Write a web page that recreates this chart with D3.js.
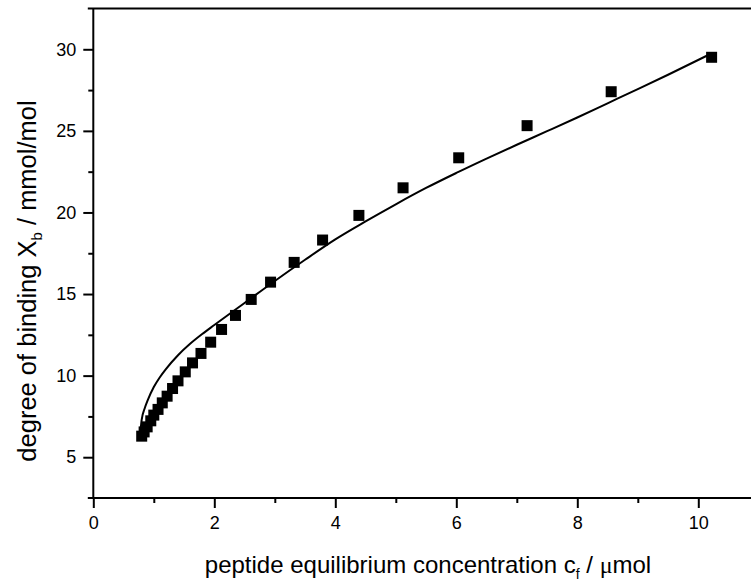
<!DOCTYPE html>
<html>
<head>
<meta charset="utf-8">
<script src="https://cdn.jsdelivr.net/npm/d3@7/dist/d3.min.js"></script>
<style>
  html, body { margin: 0; padding: 0; background: #fff; }
  svg { display: block; font-family: "Liberation Sans", Arial, sans-serif; }
</style>
</head>
<body>
<svg id="chart" width="751" height="585"></svg>
<script>
// Measured binding data: free peptide concentration (µmol) vs degree of binding (mmol/mol)
const concentration = [0.80, 0.84, 0.89, 0.95, 1.00, 1.07, 1.14, 1.22, 1.31, 1.40, 1.52, 1.64, 1.78,
                       1.94, 2.12, 2.35, 2.61, 2.93, 3.32, 3.79, 4.39, 5.12, 6.04, 7.17, 8.56, 10.22];
const binding = [6.29, 6.55, 6.86, 7.23, 7.58, 7.93, 8.33, 8.74, 9.21, 9.68, 10.23, 10.78, 11.36,
                 12.05, 12.83, 13.69, 14.67, 15.73, 16.94, 18.31, 19.82, 21.51, 23.35, 25.32, 27.40, 29.51];

// Model curve through the data
const fitX = [0.78, 0.80, 0.85, 0.90, 1.00, 1.10, 1.20, 1.40, 1.60, 1.80, 2.00, 2.50, 3.00, 3.50,
              4.00, 4.50, 5.00, 5.50, 6.00, 6.50, 7.00, 7.50, 8.00, 8.50, 9.00, 9.50, 10.22];
const fitY = [6.60, 7.30, 8.00, 8.50, 9.30, 9.90, 10.40, 11.25, 11.95, 12.55, 13.10, 14.45, 15.80, 17.10,
              18.35, 19.45, 20.50, 21.50, 22.42, 23.30, 24.15, 24.98, 25.82, 26.69, 27.56, 28.44, 29.75];

const xMajor = [0, 2, 4, 6, 8, 10];
const xMinor = [1, 3, 5, 7, 9];
const yMajor = [5, 10, 15, 20, 25, 30];
const yMinor = [7.5, 12.5, 17.5, 22.5, 27.5];

const svg = d3.select("#chart");
const W = 751;

const x = d3.scaleLinear().domain([0, 11]).range([93.3, 93.3 + 11 * 60.5]);
const y = d3.scaleLinear().domain([2.5, 32.5]).range([498, 8.5]);

const ink = "#000";
const frameLeft = x(0) - 5.5;

// Frame lines (top and bottom), extending a little left of the y axis
svg.append("line").attr("x1", frameLeft).attr("x2", W + 10)
  .attr("y1", y(32.5)).attr("y2", y(32.5))
  .attr("stroke", ink).attr("stroke-width", 2);

// X axis
const xAxis = svg.append("g").attr("transform", `translate(0,${y(2.5)})`);
xAxis.call(d3.axisBottom(x).tickValues(xMajor).tickSize(10).tickPadding(8).tickFormat(d3.format("d")))
  .call(g => g.select(".domain").remove());
xAxis.append("g").call(d3.axisBottom(x).tickValues(xMinor).tickSize(5).tickFormat(""))
  .call(g => g.select(".domain").remove());
xAxis.append("line").attr("x1", frameLeft).attr("x2", W + 10).attr("stroke", ink).attr("stroke-width", 2);

// Y axis
const yAxis = svg.append("g").attr("transform", `translate(${x(0)},0)`);
yAxis.call(d3.axisLeft(y).tickValues(yMajor).tickSize(10).tickPadding(7).tickFormat(d3.format("d")))
  .call(g => g.select(".domain").remove());
yAxis.append("g").call(d3.axisLeft(y).tickValues(yMinor).tickSize(5).tickFormat(""))
  .call(g => g.select(".domain").remove());
yAxis.append("line").attr("y1", y(32.5)).attr("y2", y(2.5)).attr("stroke", ink).attr("stroke-width", 2);

svg.selectAll(".tick line").attr("stroke", ink).attr("stroke-width", 2);
svg.selectAll(".tick text").attr("fill", ink).style("font-size", "18px")
  .style("font-family", "'Liberation Sans', Arial, sans-serif");

// Fitted curve
const line = d3.line().x((d, i) => x(fitX[i])).y((d, i) => y(fitY[i])).curve(d3.curveMonotoneX);
svg.append("path").datum(fitX).attr("d", line)
  .attr("fill", "none").attr("stroke", ink).attr("stroke-width", 2);

// Data points as filled squares
const s = 11;
svg.append("g").selectAll("rect").data(concentration).join("rect")
  .attr("x", (d) => x(d) - s / 2)
  .attr("y", (d, i) => y(binding[i]) - s / 2)
  .attr("width", s).attr("height", s)
  .attr("fill", ink);

// Axis titles
const xt = svg.append("text").attr("x", 428).attr("y", 573)
  .attr("text-anchor", "middle").style("font-size", "24px").attr("fill", ink);
xt.append("tspan").text("peptide equilibrium concentration c");
xt.append("tspan").attr("dy", 6).style("font-size", "14px").text("f");
xt.append("tspan").attr("dy", -6).text(" / ");
xt.append("tspan").style("font-family", "'Liberation Serif', serif").text("\u03bc");
xt.append("tspan").text("mol");

const yt = svg.append("text").attr("transform", "translate(36,281) rotate(-90)")
  .attr("text-anchor", "middle").style("font-size", "25.5px").attr("fill", ink);
yt.append("tspan").text("degree of binding X");
yt.append("tspan").attr("dy", 6).style("font-size", "15px").text("b");
yt.append("tspan").attr("dy", -6).text(" / mmol/mol");
</script>
</body>
</html>
